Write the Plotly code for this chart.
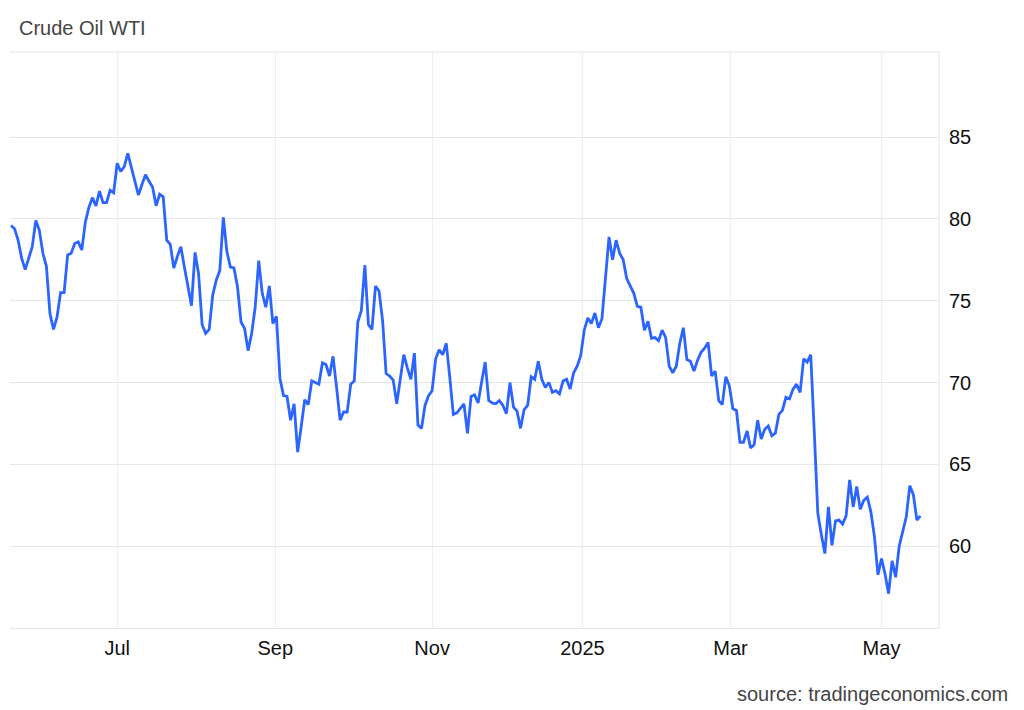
import pandas as pd
import plotly.graph_objects as go

# ---- data (daily closes, weekdays; two days missing in the source) ----
start_date = "2024-05-20"
end_date = "2025-05-16"
missing_days = ["2025-01-01", "2025-04-18"]

may_2024 = [79.6, 79.4, 78.7, 77.6, 76.9, 77.6, 78.3, 79.9, 79.3, 77.9]
jun_2024 = [77.1, 74.2, 73.25, 74.0, 75.5, 75.5, 77.8, 77.9, 78.5, 78.6,
            78.1, 79.8, 80.7, 81.3, 80.8, 81.7, 81.0, 81.0, 81.75, 81.6]
jul_2024 = [83.4, 82.9, 83.2, 84.0, 83.15, 82.3, 81.45, 82.1, 82.7, 82.3,
            81.95, 80.8, 81.5, 81.35, 78.7, 78.45, 77.0, 77.7, 78.3, 77.05,
            75.9, 74.7, 77.95]
aug_2024 = [76.65, 73.55, 73.0, 73.25, 75.35, 76.25, 76.85, 80.1, 78.0, 77.05,
            77.0, 75.85, 73.7, 73.3, 71.95, 73.0, 74.6, 77.45, 75.45, 74.6,
            75.9, 73.6]
sep_2024 = [74.05, 70.25, 69.2, 69.15, 67.7, 68.7, 65.75, 67.3, 68.95, 68.65,
            70.1, 70.0, 69.9, 71.2, 71.1, 70.4, 71.6, 69.7, 67.7, 68.2, 68.2]
oct_2024 = [69.9, 70.1, 73.7, 74.4, 77.17, 73.55, 73.25, 75.9, 75.6, 73.8,
            70.55, 70.4, 70.15, 68.7, 70.2, 71.7, 70.9, 70.2, 71.8, 67.4,
            67.2, 68.6, 69.2]
nov_2024 = [69.5, 71.45, 72.0, 71.7, 72.4, 70.3, 68.05, 68.15, 68.4, 68.7,
            66.9, 69.15, 69.25, 68.75, 70.05, 71.25, 68.9, 68.75, 68.7, 68.9,
            68.6]
dec_2024 = [68.1, 70.0, 68.5, 68.25, 67.2, 68.35, 68.6, 70.35, 70.2, 71.3,
            70.2, 69.7, 70.0, 69.4, 69.5, 69.3, 70.1, 70.2, 69.6, 70.6,
            71.0, 71.65]
jan_2025 = [73.2, 73.95, 73.6, 74.25, 73.35, 73.9, 76.45, 78.9, 77.5, 78.7,
            77.9, 77.5, 76.35, 75.85, 75.45, 74.65, 74.6, 73.2, 73.75, 72.7,
            72.75, 72.55]
feb_2025 = [73.2, 72.75, 71.0, 70.6, 71.0, 72.4, 73.35, 71.4, 71.3, 70.7,
            71.35, 71.85, 72.1, 72.45, 70.4, 70.7, 68.9, 68.65, 70.35, 69.8]
mar_2025 = [68.4, 68.3, 66.35, 66.35, 67.05, 66.0, 66.2, 67.7, 66.55, 67.15,
            67.35, 66.75, 66.9, 68.05, 68.3, 69.1, 69.0, 69.6, 69.9, 69.4,
            71.45]
apr_2025 = [71.25, 71.7, 67.0, 62.0, 60.7, 59.55, 62.4, 60.05, 61.55, 61.6,
            61.35, 61.85, 64.05, 62.4, 63.65, 62.25, 62.8, 63.0, 62.1, 60.6,
            58.25]
may_2025 = [59.25, 58.3, 57.1, 59.1, 58.1, 60.0, 61.0, 61.8, 63.7, 63.15,
            61.6, 61.85]

values = (may_2024 + jun_2024 + jul_2024 + aug_2024 + sep_2024 + oct_2024 +
          nov_2024 + dec_2024 + jan_2025 + feb_2025 + mar_2025 + apr_2025 +
          may_2025)

dates = pd.bdate_range(start_date, end_date)
dates = dates[~dates.isin(pd.to_datetime(missing_days))]

x_ticks = ["2024-07-01", "2024-08-30 16:00", "2024-11-01",
           "2024-12-31 12:00", "2025-02-28 08:00", "2025-05-01"]
x_labels = ["Jul", "Sep", "Nov", "2025", "Mar", "May"]
y_ticks = [60, 65, 70, 75, 80, 85]

FONT = "Liberation Sans, Arial, Helvetica, sans-serif"

fig = go.Figure(
    go.Scatter(x=dates, y=values, mode="lines",
               line=dict(color="#2c64ff", width=2.8),
               hoverinfo="x+y")
)

fig.update_layout(
    width=1024, height=710,
    margin=dict(l=10, r=85, t=52, b=82),
    paper_bgcolor="white", plot_bgcolor="white",
    showlegend=False,
    font=dict(family=FONT, size=20, color="#111111"),
    title=dict(text="Crude Oil WTI", x=19 / 1024, xanchor="left",
               y=1 - 28 / 710, yanchor="middle",
               font=dict(family=FONT, size=20, color="#444444")),
)

fig.update_xaxes(
    range=["2024-05-17 17:00", "2025-05-23 06:00"],
    rangebreaks=[dict(bounds=["sat", "mon"]), dict(values=missing_days)],
    tickmode="array", tickvals=x_ticks, ticktext=x_labels,
    showgrid=True, gridcolor="#eaeff5", gridwidth=1,
    showline=True, linecolor="#e2e5ea", linewidth=1,
    zeroline=False, ticks="", ticklabelstandoff=2,
    tickfont=dict(family=FONT, size=20, color="#111111"),
)

fig.update_yaxes(
    side="right", range=[55, 90.2],
    tickmode="array", tickvals=y_ticks,
    showgrid=True, gridcolor="#e6e6e6", gridwidth=1,
    zeroline=False, showline=False, ticks="", ticklabelstandoff=9,
    tickfont=dict(family=FONT, size=20, color="#111111"),
)

# top border and right border of the plot area
fig.add_shape(type="line", xref="paper", yref="paper", x0=0, x1=1, y0=1, y1=1,
              line=dict(color="#e6e6e6", width=1))
fig.add_shape(type="line", xref="paper", yref="paper", x0=1, x1=1, y0=0, y1=1,
              line=dict(color="#e2e2e2", width=1))

fig.add_annotation(text="source: tradingeconomics.com", xref="paper", yref="paper",
                   x=(1010 - 10) / 929, y=(628 - 694) / 576,
                   xanchor="right", yanchor="middle", showarrow=False,
                   font=dict(family=FONT, size=20, color="#444444"))

fig.write_html("out.html", config={"displayModeBar": False},
               post_script="document.body.style.margin='0';")
